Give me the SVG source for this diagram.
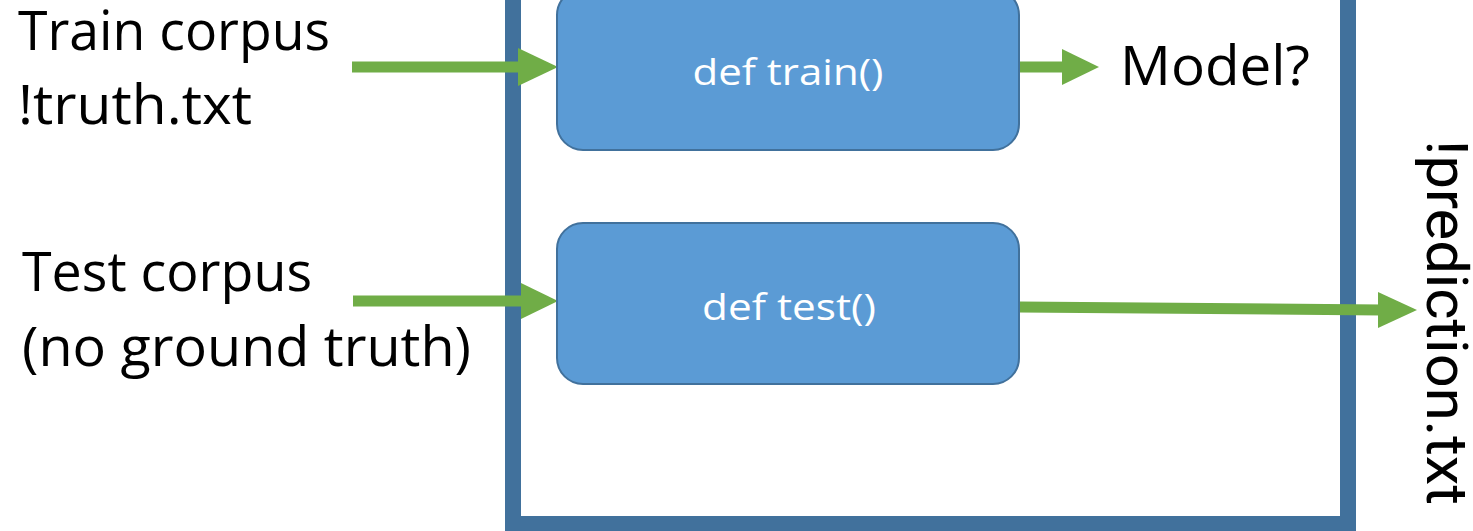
<svg xmlns="http://www.w3.org/2000/svg" width="1473" height="531" viewBox="0 0 1473 531">
  <style>
    .lbl { font-family: "Open Sans", "Liberation Sans", sans-serif; font-size: 54px; fill: #000000; }
    .box { fill: #5B9BD5; stroke: #41719C; stroke-width: 2; }
    .boxtxt { font-family: "Open Sans", "Liberation Sans", sans-serif; font-size: 37px; fill: #FFFFFF; text-anchor: middle; }
    .conn { stroke: #70AD47; stroke-width: 11; fill: none; }
    .head { fill: #70AD47; }
    .vert { font-family: Roboto, "Liberation Sans", sans-serif; font-size: 57px; fill: #000000; }
  </style>
  <rect width="1473" height="531" fill="#FFFFFF"/>
  <g id="frame">
    <rect x="513" y="-100" width="835" height="624" fill="#FFFFFF" stroke="#41719C" stroke-width="16"/>
  </g>
  <g id="connectors">
    <line class="conn" x1="352" y1="67" x2="522" y2="67"/>
    <polygon class="head" points="518,48 558,67 518,86"/>
    <line class="conn" x1="353" y1="301" x2="524" y2="301"/>
    <polygon class="head" points="521,283 558,301 521,319"/>
    <line class="conn" x1="1019" y1="67" x2="1066" y2="67"/>
    <polygon class="head" points="1062,49 1099,67 1062,85"/>
    <line class="conn" x1="1019" y1="307" x2="1382" y2="310"/>
    <polygon class="head" points="1378,292 1417,310 1378,328"/>
  </g>
  <g id="train-box">
    <rect class="box" x="557" y="-11" width="462" height="161" rx="26"/>
    <text class="boxtxt" x="788" y="85" textLength="191" lengthAdjust="spacingAndGlyphs">def train()</text>
  </g>
  <g id="test-box">
    <rect class="box" x="557" y="223" width="462" height="161" rx="26"/>
    <text class="boxtxt" x="789" y="320" textLength="174" lengthAdjust="spacingAndGlyphs">def test()</text>
  </g>
  <g id="train-input">
    <text class="lbl" x="18" y="50" textLength="312" lengthAdjust="spacingAndGlyphs">Train corpus</text>
    <text class="lbl" x="18" y="124" textLength="234" lengthAdjust="spacingAndGlyphs">!truth.txt</text>
  </g>
  <g id="test-input">
    <text class="lbl" x="22" y="291" textLength="290" lengthAdjust="spacingAndGlyphs">Test corpus</text>
    <text class="lbl" x="22" y="366" textLength="449" lengthAdjust="spacingAndGlyphs">(no ground truth)</text>
  </g>
  <g id="model-output">
    <text class="lbl" x="1120" y="85" textLength="190" lengthAdjust="spacingAndGlyphs">Model?</text>
  </g>
  <g id="prediction-output">
    <text class="vert" transform="translate(1427,140) rotate(90)" x="0" y="0" textLength="365" lengthAdjust="spacingAndGlyphs">!prediction.txt</text>
  </g>
</svg>
